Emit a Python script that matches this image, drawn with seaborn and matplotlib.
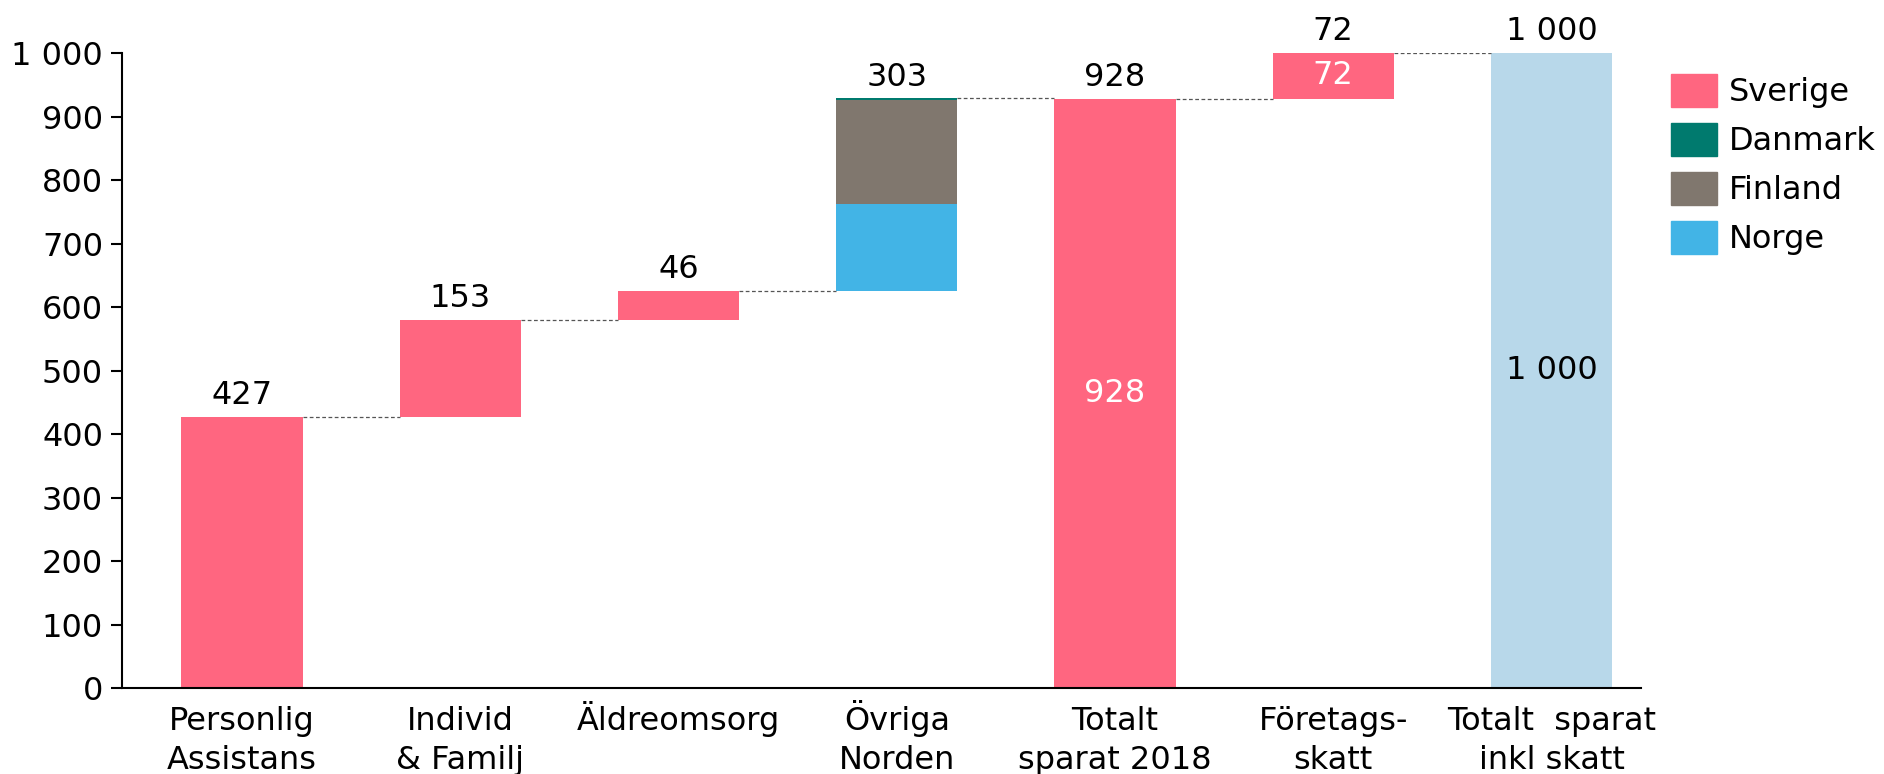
import numpy as np
import pandas as pd
import seaborn as sns
import matplotlib.pyplot as plt
from matplotlib.patches import Patch

# data
categories = ["Personlig\nAssistans", "Individ\n& Familj", "Äldreomsorg\n ", "Övriga\nNorden",
              "Totalt\nsparat 2018", "Företags-\nskatt", "Totalt  sparat\ninkl skatt"]
sverige = [427, 153, 46, 0, 928, 72, 0]
norge = [0, 0, 0, 136, 0, 0, 0]
finland = [0, 0, 0, 164, 0, 0, 0]
danmark = [0, 0, 0, 3, 0, 0, 0]
totalt_inkl = [0, 0, 0, 0, 0, 0, 1000]
is_total = [False, False, False, False, True, False, True]
top_labels = [427, 153, 46, 303, 928, 72, 1000]

c_sverige = "#FF6680"
c_danmark = "#007A6E"
c_finland = "#80776E"
c_norge = "#42B4E6"
c_total = "#B8D8EA"

sns.set_theme(style="white")
plt.rcParams['font.family'] = ['DejaVu Sans']
FS = 23

def fmt(v):
    return f"{v:,}".replace(",", " ")

# waterfall bottoms (totals reset the running sum)
step = np.array(sverige) + np.array(norge) + np.array(finland) + np.array(danmark) + np.array(totalt_inkl)
base = []
run = 0
for i, s in enumerate(step):
    if is_total[i]:
        base.append(0)
        run = s
    else:
        base.append(run)
        run += s
base = np.array(base)

df = pd.DataFrame({"kat": categories, "Sverige": sverige, "Norge": norge,
                   "Finland": finland, "Danmark": danmark, "Totalt": totalt_inkl})

fig = plt.figure(figsize=(18.84, 7.74), dpi=100)
ax = fig.add_axes([0.065, 0.111, 0.806, 0.8205])

w = 0.556
bot_norge = base
bot_finland = base + np.array(norge)
bot_danmark = bot_finland + np.array(finland)
for col, color, bot in [("Sverige", c_sverige, base), ("Norge", c_norge, bot_norge),
                        ("Finland", c_finland, bot_finland), ("Danmark", c_danmark, bot_danmark),
                        ("Totalt", c_total, np.zeros(7))]:
    sns.barplot(data=df, x="kat", y=col, order=categories, color=color, width=w,
                bottom=bot, saturation=1, ax=ax, linewidth=0, errorbar=None)

tops = base + step

# dashed connectors
for i in range(len(categories) - 1):
    ax.plot([i + w / 2, i + 1 - w / 2], [tops[i], tops[i]], ls=(0, (3, 2)),
            color="#555555", lw=0.9)

# labels
for i, v in enumerate(top_labels):
    ax.annotate(fmt(v), (i, tops[i]), xytext=(0, 4), textcoords="offset points",
                ha="center", va="bottom", fontsize=FS, color="black", annotation_clip=False)
ax.text(4, 928 / 2, "928", ha="center", va="center", fontsize=FS, color="white")
ax.text(5, 928 + 72 / 2, "72", ha="center", va="center", fontsize=FS, color="white")
ax.text(6, 500, "1 000", ha="center", va="center", fontsize=FS, color="black")

ax.set_xlim(-0.548, 6.41)
ax.set_ylim(0, 1000)
ax.set_yticks(range(0, 1001, 100))
ax.set_yticklabels([fmt(v) for v in range(0, 1001, 100)])
ax.set_xlabel("")
ax.set_ylabel("")
ax.tick_params(axis="y", labelsize=FS, length=8, width=1.5, left=True, pad=6, colors="black")
ax.tick_params(axis="x", labelsize=FS, length=0, pad=58, colors="black")
for lab in ax.get_xticklabels():
    lab.set_linespacing(1.3)
    lab.set_verticalalignment("baseline")
sns.despine(ax=ax)
for sp in ["left", "bottom"]:
    ax.spines[sp].set_color("black")
    ax.spines[sp].set_linewidth(1.5)

handles = [Patch(color=c_sverige, label="Sverige"), Patch(color=c_danmark, label="Danmark"),
           Patch(color=c_finland, label="Finland"), Patch(color=c_norge, label="Norge")]
ax.legend(handles=handles, loc="upper left", bbox_to_anchor=(0.887, 0.905),
          bbox_transform=fig.transFigure, frameon=False, fontsize=FS, labelcolor="black",
          handlelength=1.45, handleheight=1.25, labelspacing=0.45, handletextpad=0.35,
          borderaxespad=0, borderpad=0)

fig.savefig("out.png", dpi=100)
